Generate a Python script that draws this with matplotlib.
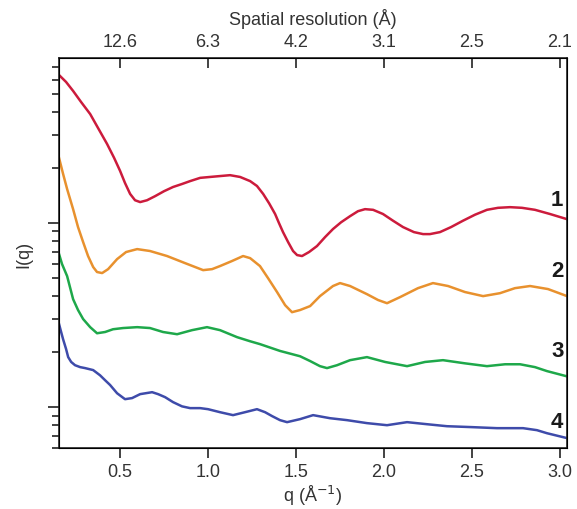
import numpy as np
import matplotlib
matplotlib.use("Agg")
import matplotlib.pyplot as plt
from matplotlib.ticker import LogLocator, NullFormatter

plt.rcParams['font.family'] = ['Liberation Sans', 'DejaVu Sans']

# scattering profiles, q in 1/Angstrom
q1 = [0.153, 0.193, 0.233, 0.278, 0.330, 0.375, 0.426, 0.466, 0.500, 0.528,
      0.557, 0.585, 0.614, 0.653, 0.699, 0.750, 0.801, 0.852, 0.898, 0.955,
      1.011, 1.068, 1.125, 1.182, 1.239, 1.278, 1.313, 1.347, 1.381, 1.403,
      1.426, 1.455, 1.483, 1.506, 1.534, 1.574, 1.619, 1.665, 1.710, 1.756,
      1.807, 1.852, 1.892, 1.938, 1.994, 2.051, 2.108, 2.170, 2.222, 2.261,
      2.318, 2.381, 2.449, 2.517, 2.585, 2.648, 2.716, 2.784, 2.858, 2.943,
      3.040]
I1 = [63.7, 58.4, 52.2, 45.5, 39.1, 32.8, 26.9, 22.6, 19.2, 16.5,
      14.4, 13.3, 13.0, 13.3, 14.0, 14.9, 15.7, 16.3, 16.9, 17.6,
      17.8, 18.0, 18.2, 17.8, 16.9, 15.9, 14.4, 12.8, 11.2, 10.0,
      8.93, 7.88, 7.05, 6.70, 6.62, 6.96, 7.50, 8.39, 9.28, 10.1,
      10.9, 11.6, 11.9, 11.8, 11.2, 10.3, 9.51, 8.93, 8.71, 8.71,
      8.93, 9.51, 10.3, 11.1, 11.8, 12.1, 12.2, 12.1, 11.8, 11.2,
      10.5]

q2 = [0.153, 0.176, 0.199, 0.233, 0.261, 0.290, 0.318, 0.347, 0.369, 0.398,
      0.432, 0.483, 0.534, 0.597, 0.670, 0.767, 0.869, 0.972, 1.023, 1.068,
      1.136, 1.199, 1.239, 1.295, 1.341, 1.392, 1.438, 1.477, 1.523, 1.580,
      1.636, 1.710, 1.750, 1.807, 1.903, 1.966, 2.017, 2.091, 2.193, 2.278,
      2.364, 2.460, 2.563, 2.659, 2.744, 2.830, 2.932, 3.040]
I2 = [22.6, 18.5, 15.3, 11.9, 9.51, 7.88, 6.62, 5.77, 5.42, 5.35,
      5.62, 6.37, 6.96, 7.22, 7.05, 6.62, 6.06, 5.55, 5.62, 5.84,
      6.22, 6.62, 6.45, 5.84, 5.02, 4.22, 3.58, 3.28, 3.37, 3.54,
      4.01, 4.55, 4.72, 4.55, 4.11, 3.82, 3.67, 3.96, 4.43, 4.72,
      4.55, 4.22, 4.01, 4.16, 4.43, 4.55, 4.38, 4.01]

q3 = [0.153, 0.170, 0.199, 0.233, 0.261, 0.290, 0.330, 0.369, 0.415, 0.460,
      0.517, 0.597, 0.670, 0.744, 0.824, 0.909, 0.994, 1.068, 1.165, 1.239,
      1.295, 1.409, 1.523, 1.580, 1.636, 1.676, 1.733, 1.807, 1.903, 2.006,
      2.131, 2.233, 2.335, 2.460, 2.585, 2.688, 2.773, 2.858, 2.926, 3.040]
I3 = [6.79, 5.99, 5.15, 3.86, 3.37, 3.01, 2.72, 2.52, 2.56, 2.65,
      2.69, 2.72, 2.69, 2.56, 2.49, 2.62, 2.72, 2.62, 2.40, 2.28,
      2.20, 2.02, 1.89, 1.78, 1.67, 1.63, 1.69, 1.80, 1.87, 1.76,
      1.67, 1.76, 1.80, 1.73, 1.67, 1.71, 1.71, 1.65, 1.57, 1.47]

q4 = [0.153, 0.165, 0.176, 0.193, 0.205, 0.222, 0.244, 0.273, 0.301, 0.347,
      0.386, 0.415, 0.443, 0.483, 0.528, 0.568, 0.614, 0.682, 0.716, 0.756,
      0.801, 0.852, 0.898, 0.955, 1.000, 1.068, 1.142, 1.210, 1.278, 1.324,
      1.364, 1.409, 1.449, 1.523, 1.597, 1.693, 1.790, 1.903, 2.017, 2.131,
      2.244, 2.358, 2.500, 2.642, 2.790, 2.869, 2.926, 3.040]
I4 = [2.83, 2.56, 2.34, 2.07, 1.87, 1.76, 1.69, 1.65, 1.63, 1.59,
      1.49, 1.40, 1.32, 1.19, 1.105, 1.12, 1.177, 1.206, 1.177, 1.133,
      1.065, 1.01, 0.988, 0.988, 0.975, 0.939, 0.905, 0.939, 0.975, 0.939,
      0.894, 0.850, 0.829, 0.861, 0.905, 0.871, 0.850, 0.819, 0.798, 0.829,
      0.808, 0.788, 0.779, 0.769, 0.769, 0.750, 0.722, 0.679]

series = [(q1, I1, '#CC1B3C', '1'), (q2, I2, '#E8912E', '2'),
          (q3, I3, '#1EA84A', '3'), (q4, I4, '#3E4BAA', '4')]
label_y = [0.638, 0.454, 0.249, 0.067]

top_q = [0.5, 1.0, 1.5, 2.0, 2.5, 3.0]

fig = plt.figure(figsize=(5.77, 5.10), dpi=100)
ax = fig.add_axes([0.1023, 0.1196, 0.8804, 0.7647])

for (q, I, c, name), ly in zip(series, label_y):
    ax.plot(q, I, color=c, lw=1.8, solid_joinstyle='round')
    ax.text(0.993, ly, name, transform=ax.transAxes, ha='right', va='center',
            fontsize=16, fontweight='bold', color='#1a1a1a')

ax.set_yscale('log')
ax.set_xlim(0.153, 3.04)
ax.set_ylim(0.60, 78.8)
ax.yaxis.set_major_locator(LogLocator(base=10))
ax.yaxis.set_minor_locator(LogLocator(base=10, subs=np.arange(2, 10)))
ax.yaxis.set_major_formatter(NullFormatter())
ax.yaxis.set_minor_formatter(NullFormatter())
ax.set_xticks(top_q)
ax.set_xticklabels([f"{v:.1f}" for v in top_q])

for s in ax.spines.values():
    s.set_linewidth(1.2)
    s.set_color('#222222')
ax.tick_params(axis='x', direction='out', length=7, width=1.2, labelsize=13,
               color='#222222', labelcolor='#333333', pad=4)
ax.tick_params(axis='y', which='major', direction='out', length=8, width=1.2,
               color='#222222')
ax.tick_params(axis='y', which='minor', direction='out', length=5, width=1.2,
               color='#222222')

ax.set_xlabel('q (Å$^{-1}$)', fontsize=13, color='#333333', labelpad=2)
ax.set_ylabel('I(q)', fontsize=13, color='#333333', labelpad=8)

# spatial resolution axis, d = 2*pi/q
top = ax.twiny()
top.set_xlim(ax.get_xlim())
top.set_xticks(top_q)
top.set_xticklabels([f"{2 * np.pi / v:.1f}" for v in top_q])
top.tick_params(axis='x', direction='in', length=7, width=1.2, labelsize=13,
                color='#222222', labelcolor='#333333', pad=6)
top.set_xlabel('Spatial resolution (Å)', fontsize=13, color='#333333',
               labelpad=6)

fig.savefig('out.png', dpi=100)
